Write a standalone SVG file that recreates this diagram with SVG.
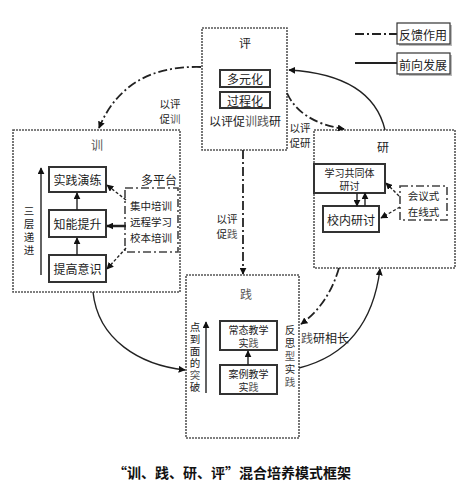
<svg xmlns="http://www.w3.org/2000/svg" width="475" height="481" viewBox="0 0 475 481">
<style>
text{font-family:"Noto Sans CJK SC","Liberation Serif",serif;font-size:12px;fill:#222;text-anchor:middle;dominant-baseline:central}
.s{font-size:10.5px}
.t{font-size:10px}
.v{writing-mode:vertical-rl;text-anchor:start;font-size:10.5px}
.frame{fill:none;stroke:#555;stroke-width:1.6;stroke-dasharray:2 1}
.dd{fill:none;stroke:#444;stroke-width:1.6;stroke-dasharray:8 3 2 3}
.bx{fill:#fff;stroke:#333;stroke-width:2}
.sh{fill:#bbb}
.sol{fill:none;stroke:#222;stroke-width:1.4}
.fb{fill:none;stroke:#222;stroke-width:1.8;stroke-dasharray:9 3 2 3}
.lt{fill:#555}
</style>
<defs>
<marker id="ah" viewBox="0 0 10 10" refX="9" refY="5" markerWidth="7" markerHeight="7" orient="auto" markerUnits="userSpaceOnUse">
<path d="M0,0 L10,5 L0,10 z" fill="#111"/>
</marker>
</defs>
<rect width="475" height="481" fill="#fff"/>

<g id="legend">
<line x1="355" y1="34" x2="397" y2="34" class="fb"/>
<rect x="399" y="25" width="53" height="21" class="sh"/>
<rect x="397" y="23" width="53" height="21" fill="#fff" stroke="#333" stroke-width="1.2"/>
<text x="423" y="34">反馈作用</text>
<line x1="355" y1="63" x2="397" y2="63" stroke="#222" stroke-width="1.8"/>
<rect x="399" y="55" width="53" height="21" class="sh"/>
<rect x="397" y="53" width="53" height="21" fill="#fff" stroke="#333" stroke-width="1.2"/>
<text x="423" y="64">前向发展</text>
</g>

<g id="ping">
<rect x="202" y="28" width="85" height="122" class="frame"/>
<text x="245" y="42">评</text>
<rect x="220" y="70" width="50" height="17" class="bx"/>
<text x="245" y="78.5">多元化</text>
<rect x="220" y="92" width="50" height="16" class="bx"/>
<text x="245" y="100">过程化</text>
<text x="245" y="120">以评促<tspan class="lt">训践</tspan>研</text>
</g>

<g id="xun">
<rect x="13" y="130" width="167" height="162" class="frame"/>
<text x="97" y="144" class="lt">训</text>
<rect x="49" y="167" width="57" height="25" class="bx"/>
<text x="77.5" y="179.5">实践演练</text>
<rect x="49" y="210" width="57" height="27" class="bx"/>
<text x="77.5" y="223.5">知能提升</text>
<rect x="49" y="255" width="57" height="27" class="bx"/>
<text x="77.5" y="268.5">提高意识</text>
<text x="159" y="179">多平台</text>
<rect x="125" y="188" width="53" height="64" class="dd" stroke-width="1.4"/>
<text class="s"><tspan x="151" y="205">集中培训</tspan><tspan x="151" y="221">远程学习</tspan><tspan x="151" y="237">校本培训</tspan></text>
<text x="29" y="206" class="v" style="letter-spacing:2.5px">三层递进</text>
</g>

<g id="yan">
<rect x="314" y="130" width="141" height="138" class="frame"/>
<text x="383" y="146">研</text>
<rect x="314" y="164" width="71" height="29" class="bx"/>
<text class="t"><tspan x="349.5" y="171.5">学习共同体</tspan><tspan x="349.5" y="185">研讨</tspan></text>
<rect x="323" y="206" width="56" height="26" class="bx"/>
<text x="351" y="219">校内研讨</text>
<rect x="400" y="186" width="47" height="34" class="dd" stroke-width="1.4"/>
<text class="s"><tspan x="423.5" y="195">会议式</tspan><tspan x="423.5" y="211">在线式</tspan></text>
</g>

<g id="jian">
<rect x="186" y="275" width="113" height="163" class="frame"/>
<text x="246" y="293" class="lt">践</text>
<rect x="220" y="321" width="57" height="29" class="bx"/>
<text class="t"><tspan x="248.5" y="328.5">常态教学</tspan><tspan x="248.5" y="342">实<tspan class="lt">践</tspan></tspan></text>
<rect x="220" y="365" width="57" height="29" class="bx"/>
<text class="t"><tspan x="248.5" y="372.5">案例教学</tspan><tspan x="248.5" y="386">实<tspan class="lt">践</tspan></tspan></text>
<text x="195" y="321.5" class="v" style="letter-spacing:1.5px">点到面的<tspan class="lt">突</tspan>破</text>
<text x="290" y="325" class="v" style="letter-spacing:2.5px">反思<tspan class="lt">型</tspan>实<tspan class="lt">践</tspan></text>
</g>

<g id="connectors">
<line x1="77" y1="255" x2="77" y2="238" class="sol" marker-end="url(#ah)"/>
<line x1="77" y1="210" x2="77" y2="193" class="sol" marker-end="url(#ah)"/>
<line x1="41" y1="275" x2="41" y2="168" class="sol" marker-end="url(#ah)"/>
<line x1="126" y1="200" x2="107" y2="185" class="sol" stroke-dasharray="3 2" marker-end="url(#ah)"/>
<line x1="126" y1="226" x2="107" y2="226" stroke="#222" stroke-width="2.5" marker-end="url(#ah)"/>
<line x1="126" y1="248" x2="107" y2="269" class="sol" stroke-dasharray="3 2" marker-end="url(#ah)"/>
<line x1="357" y1="193" x2="357" y2="206" class="sol" marker-end="url(#ah)"/>
<line x1="365" y1="206" x2="365" y2="193" class="sol" marker-end="url(#ah)"/>
<line x1="399" y1="196" x2="386" y2="183" class="sol" stroke-dasharray="3 2" marker-end="url(#ah)"/>
<line x1="400" y1="207" x2="381" y2="218" class="sol" stroke-dasharray="3 2" marker-end="url(#ah)"/>
<line x1="248" y1="365" x2="248" y2="351" class="sol" marker-end="url(#ah)"/>
<line x1="206" y1="393" x2="206" y2="322" class="sol" marker-end="url(#ah)"/>
<path d="M201,67 Q125,65 99,128" class="fb" marker-end="url(#ah)"/>
<text class="s"><tspan x="170" y="103">以评</tspan><tspan x="170" y="117.5">促<tspan class="lt">训</tspan></tspan></text>
<line x1="243" y1="150" x2="243" y2="274" class="fb" marker-end="url(#ah)"/>
<text class="s"><tspan x="227" y="218">以评</tspan><tspan x="227" y="232.5">促<tspan class="lt">践</tspan></tspan></text>
<path d="M287,93 Q300,122 344,129" class="fb" marker-end="url(#ah)"/>
<text class="s"><tspan x="300" y="127">以评</tspan><tspan x="300" y="141.5">促研</tspan></text>
<path d="M385,130 Q372,75 289,70" class="sol" stroke-width="1.6" marker-end="url(#ah)"/>
<path d="M93,292 C98,340 140,365 185,370" class="sol" stroke-width="1.6" marker-end="url(#ah)"/>
<path d="M339,268 Q328,305 301,324" class="fb" stroke-dasharray="7 4" marker-end="url(#ah)"/>
<path d="M299,368 Q370,350 380,269" class="sol" stroke-width="1.6" marker-end="url(#ah)"/>
<text x="325" y="337"><tspan class="lt">践</tspan>研相长</text>
</g>

<text x="232" y="472" style="font-size:14px;font-weight:bold;font-family:'Noto Sans CJK SC',sans-serif;fill:#111">“训、践、研、评”混合培养模式框架</text>
</svg>
